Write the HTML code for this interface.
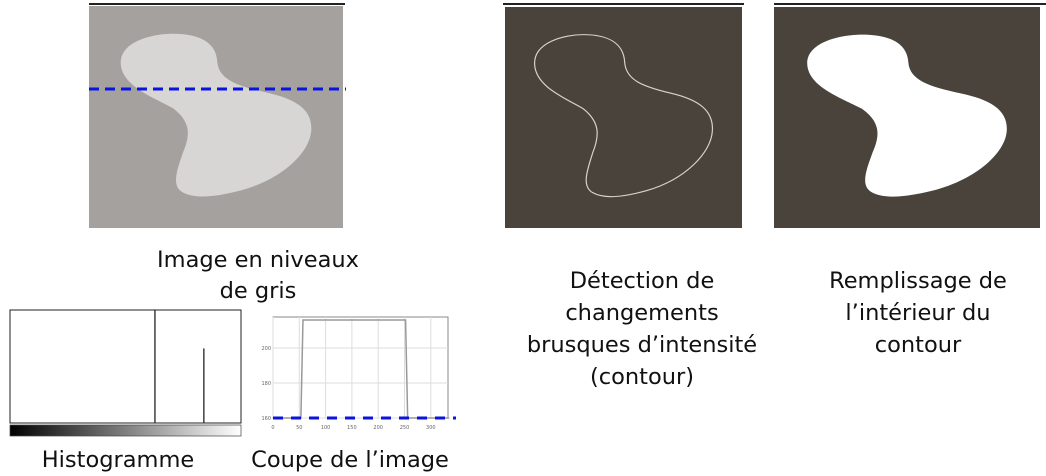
<!DOCTYPE html>
<html><head><meta charset="utf-8"><style>
html,body{margin:0;padding:0;background:#fff;}
svg{display:block;font-family:"DejaVu Sans","Liberation Sans",sans-serif;}
</style></head><body>
<svg id="root" width="1046" height="476" viewBox="0 0 1046 476">
<defs>
<linearGradient id="gr" x1="0" x2="1"><stop offset="0" stop-color="#000"/><stop offset="1" stop-color="#fff"/></linearGradient>
</defs>
<g>
<line x1="89" y1="4" x2="345" y2="4" stroke="#222" stroke-width="2"/>
<rect x="89" y="6" width="254" height="222" fill="#a5a19e"/>
<svg x="89" y="6" width="254" height="222" viewBox="0 0 100 100" preserveAspectRatio="none">
<path d="M12.5,26 C12,16 25,12.5 33,12.5 C43,12.5 50,16 50.5,25 C51,33 58,36 70,39 C82,42 88,47 87.5,56 C87,66 76,78 60,83 C50,86 42,87 37,84 C32,81 35,73 37,66 C40,58 40,52 33,46 C25,41 13,36 12.5,26 Z" fill="#d8d6d5"/>
</svg>
<line x1="89" y1="89" x2="346" y2="89" stroke="#0a14e0" stroke-width="3" stroke-dasharray="10,6"/>
</g>
<g>
<line x1="503" y1="4" x2="744" y2="4" stroke="#222" stroke-width="2"/>
<rect x="505" y="7" width="237" height="221" fill="#4a433b"/>
<svg x="505" y="7" width="237" height="221" viewBox="0 0 100 100" preserveAspectRatio="none">
<path d="M12.5,26 C12,16 25,12.5 33,12.5 C43,12.5 50,16 50.5,25 C51,33 58,36 70,39 C82,42 88,47 87.5,56 C87,66 76,78 60,83 C50,86 42,87 37,84 C32,81 35,73 37,66 C40,58 40,52 33,46 C25,41 13,36 12.5,26 Z" fill="none" stroke="#d8d4cc" stroke-width="0.5"/>
</svg>
</g>
<g>
<line x1="774" y1="4" x2="1046" y2="4" stroke="#222" stroke-width="2"/>
<rect x="774" y="7" width="266" height="221" fill="#4a433b"/>
<svg x="774" y="7" width="266" height="221" viewBox="0 0 100 100" preserveAspectRatio="none">
<path d="M12.5,26 C12,16 25,12.5 33,12.5 C43,12.5 50,16 50.5,25 C51,33 58,36 70,39 C82,42 88,47 87.5,56 C87,66 76,78 60,83 C50,86 42,87 37,84 C32,81 35,73 37,66 C40,58 40,52 33,46 C25,41 13,36 12.5,26 Z" fill="#fff"/>
</svg>
</g>
<g font-size="22.5" fill="#111" text-anchor="middle">
<text x="258" y="267">Image en niveaux</text>
<text x="258" y="298">de gris</text>
<text x="642" y="288">Détection de</text>
<text x="642" y="320">changements</text>
<text x="642" y="352">brusques d’intensité</text>
<text x="642" y="384">(contour)</text>
<text x="918" y="288">Remplissage de</text>
<text x="918" y="320">l’intérieur du</text>
<text x="918" y="352">contour</text>
<text x="118" y="467">Histogramme</text>
<text x="350" y="467">Coupe de l’image</text>
</g>
<g id="hist">
<rect x="10" y="310" width="231" height="113" fill="#fff" stroke="#222" stroke-width="1"/>
<rect x="10" y="425" width="231" height="11" fill="url(#gr)" stroke="#444" stroke-width="0.7"/>
</g>
<g id="prof">
<rect x="273" y="317" width="175" height="101" fill="#fff" stroke="#888" stroke-width="1"/>
</g>
</svg>
<script>
const histLevels=[160,214];
const histCounts=[100,66];
const profX=[0,53,57,252,256,335];
const profY=[160,160,216,216,160,160];
const xTicks=[0,50,100,150,200,250,300];
const yTicks=[160,180,200];
const NS='http://www.w3.org/2000/svg';
function mk(t,a,p){const e=document.createElementNS(NS,t);for(const k in a)e.setAttribute(k,a[k]);p.appendChild(e);return e;}
const hx=v=>10+v/255*231, hy=c=>423-c/100*113;
const hg=document.getElementById('hist');
histLevels.forEach((lv,i)=>{
 const l=mk('line',{x1:hx(lv),x2:hx(lv),y1:423,y2:hy(histCounts[i]),stroke:'#222','stroke-width':1.3},hg);
 
 
});
const px=v=>273+v/50*26.3, py=v=>418-(v-160)/20*35;
const pg=document.getElementById('prof');
xTicks.forEach(t=>{
 const g=mk('line',{x1:px(t),x2:px(t),y1:317,y2:418,stroke:'#ddd','stroke-width':1},pg);
 
 
 const tx=mk('text',{x:px(t),y:429,'font-size':5,'text-anchor':'middle',fill:'#666'},pg);
 tx.textContent=t;
 
 
});
yTicks.forEach(t=>{
 const g=mk('line',{x1:273,x2:448,y1:py(t),y2:py(t),stroke:'#ddd','stroke-width':1},pg);
 
 
 const tx=mk('text',{x:271,y:py(t)+2,'font-size':5,'text-anchor':'end',fill:'#666'},pg);
 tx.textContent=t;
 
 
});
const pl=mk('polyline',{points:profX.map((x,i)=>px(x)+','+py(profY[i])).join(' '),fill:'none',stroke:'#999','stroke-width':1.5},pg);


const bl=mk('line',{x1:273,x2:456,y1:py(160),y2:py(160),stroke:'#0a14e0','stroke-width':3,'stroke-dasharray':'10,8'},pg);


</script>
</body></html>
